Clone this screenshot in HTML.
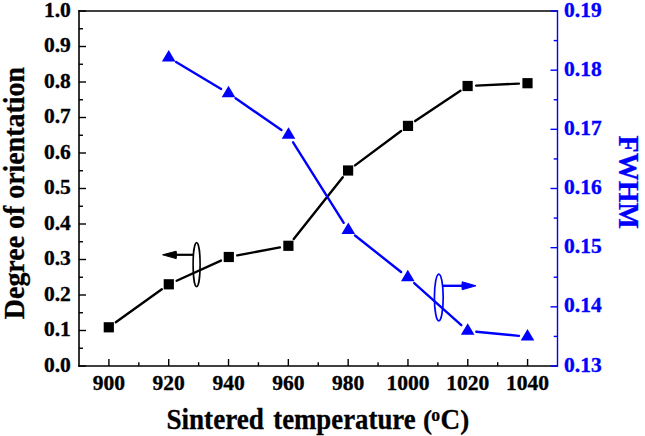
<!DOCTYPE html>
<html><head><meta charset="utf-8"><style>
html,body{margin:0;padding:0;background:#fff;width:645px;height:436px;overflow:hidden}
svg{display:block}
text{font-family:"Liberation Serif",serif;font-weight:bold}
</style></head><body>
<svg width="645" height="436" viewBox="0 0 645 436">
<rect width="645" height="436" fill="#fff"/>
<g stroke="#000" stroke-width="1.6" fill="none">
<line x1="79.0" y1="10.2" x2="79.0" y2="366.8"/>
<line x1="78.2" y1="11.0" x2="557.5" y2="11.0"/>
<line x1="78.2" y1="366.0" x2="557.5" y2="366.0"/>
<line x1="79.0" y1="366.00" x2="86.0" y2="366.00" stroke-width="1.4"/>
<line x1="79.0" y1="330.50" x2="86.0" y2="330.50" stroke-width="1.4"/>
<line x1="79.0" y1="295.00" x2="86.0" y2="295.00" stroke-width="1.4"/>
<line x1="79.0" y1="259.50" x2="86.0" y2="259.50" stroke-width="1.4"/>
<line x1="79.0" y1="224.00" x2="86.0" y2="224.00" stroke-width="1.4"/>
<line x1="79.0" y1="188.50" x2="86.0" y2="188.50" stroke-width="1.4"/>
<line x1="79.0" y1="153.00" x2="86.0" y2="153.00" stroke-width="1.4"/>
<line x1="79.0" y1="117.50" x2="86.0" y2="117.50" stroke-width="1.4"/>
<line x1="79.0" y1="82.00" x2="86.0" y2="82.00" stroke-width="1.4"/>
<line x1="79.0" y1="46.50" x2="86.0" y2="46.50" stroke-width="1.4"/>
<line x1="79.0" y1="11.00" x2="86.0" y2="11.00" stroke-width="1.4"/>
<line x1="79.0" y1="348.25" x2="83.0" y2="348.25" stroke-width="1.4"/>
<line x1="79.0" y1="312.75" x2="83.0" y2="312.75" stroke-width="1.4"/>
<line x1="79.0" y1="277.25" x2="83.0" y2="277.25" stroke-width="1.4"/>
<line x1="79.0" y1="241.75" x2="83.0" y2="241.75" stroke-width="1.4"/>
<line x1="79.0" y1="206.25" x2="83.0" y2="206.25" stroke-width="1.4"/>
<line x1="79.0" y1="170.75" x2="83.0" y2="170.75" stroke-width="1.4"/>
<line x1="79.0" y1="135.25" x2="83.0" y2="135.25" stroke-width="1.4"/>
<line x1="79.0" y1="99.75" x2="83.0" y2="99.75" stroke-width="1.4"/>
<line x1="79.0" y1="64.25" x2="83.0" y2="64.25" stroke-width="1.4"/>
<line x1="79.0" y1="28.75" x2="83.0" y2="28.75" stroke-width="1.4"/>
<line x1="108.91" y1="366.0" x2="108.91" y2="359.0" stroke-width="1.4"/>
<line x1="168.72" y1="366.0" x2="168.72" y2="359.0" stroke-width="1.4"/>
<line x1="228.53" y1="366.0" x2="228.53" y2="359.0" stroke-width="1.4"/>
<line x1="288.34" y1="366.0" x2="288.34" y2="359.0" stroke-width="1.4"/>
<line x1="348.16" y1="366.0" x2="348.16" y2="359.0" stroke-width="1.4"/>
<line x1="407.97" y1="366.0" x2="407.97" y2="359.0" stroke-width="1.4"/>
<line x1="467.78" y1="366.0" x2="467.78" y2="359.0" stroke-width="1.4"/>
<line x1="527.59" y1="366.0" x2="527.59" y2="359.0" stroke-width="1.4"/>
<line x1="138.81" y1="366.0" x2="138.81" y2="362.2" stroke-width="1.4"/>
<line x1="198.62" y1="366.0" x2="198.62" y2="362.2" stroke-width="1.4"/>
<line x1="258.44" y1="366.0" x2="258.44" y2="362.2" stroke-width="1.4"/>
<line x1="318.25" y1="366.0" x2="318.25" y2="362.2" stroke-width="1.4"/>
<line x1="378.06" y1="366.0" x2="378.06" y2="362.2" stroke-width="1.4"/>
<line x1="437.88" y1="366.0" x2="437.88" y2="362.2" stroke-width="1.4"/>
<line x1="497.69" y1="366.0" x2="497.69" y2="362.2" stroke-width="1.4"/>
</g>
<g stroke="#00f" stroke-width="1.4" fill="none">
<line x1="557.5" y1="10.2" x2="557.5" y2="366.8"/>
<line x1="557.5" y1="366.00" x2="550.5" y2="366.00"/>
<line x1="557.5" y1="306.83" x2="550.5" y2="306.83"/>
<line x1="557.5" y1="247.67" x2="550.5" y2="247.67"/>
<line x1="557.5" y1="188.50" x2="550.5" y2="188.50"/>
<line x1="557.5" y1="129.33" x2="550.5" y2="129.33"/>
<line x1="557.5" y1="70.17" x2="550.5" y2="70.17"/>
<line x1="557.5" y1="11.00" x2="550.5" y2="11.00"/>
<line x1="557.5" y1="336.42" x2="553.7" y2="336.42"/>
<line x1="557.5" y1="277.25" x2="553.7" y2="277.25"/>
<line x1="557.5" y1="218.08" x2="553.7" y2="218.08"/>
<line x1="557.5" y1="158.92" x2="553.7" y2="158.92"/>
<line x1="557.5" y1="99.75" x2="553.7" y2="99.75"/>
<line x1="557.5" y1="40.58" x2="553.7" y2="40.58"/>
</g>
<g stroke="#000" stroke-width="2.4" stroke-linecap="round" fill="none">
<line x1="115.79" y1="322.29" x2="161.81" y2="289.31"/>
<line x1="176.63" y1="280.74" x2="220.97" y2="260.56"/>
<line x1="237.25" y1="255.41" x2="279.95" y2="247.39"/>
<line x1="293.74" y1="239.06" x2="342.76" y2="177.24"/>
<line x1="355.00" y1="165.36" x2="401.10" y2="131.04"/>
<line x1="415.15" y1="121.12" x2="460.45" y2="90.78"/>
<line x1="476.19" y1="85.60" x2="518.91" y2="83.60"/>
</g>
<rect x="103.70" y="322.20" width="10.2" height="10.2" fill="#000"/>
<rect x="163.70" y="279.20" width="10.2" height="10.2" fill="#000"/>
<rect x="223.70" y="251.90" width="10.2" height="10.2" fill="#000"/>
<rect x="283.30" y="240.70" width="10.2" height="10.2" fill="#000"/>
<rect x="343.00" y="165.40" width="10.2" height="10.2" fill="#000"/>
<rect x="402.90" y="120.80" width="10.2" height="10.2" fill="#000"/>
<rect x="462.50" y="80.90" width="10.2" height="10.2" fill="#000"/>
<rect x="522.40" y="78.10" width="10.2" height="10.2" fill="#000"/>
<g stroke="#00f" stroke-width="2.4" stroke-linecap="round" fill="none">
<line x1="176.08" y1="62.02" x2="221.12" y2="88.98"/>
<line x1="235.57" y1="98.30" x2="281.43" y2="130.10"/>
<line x1="293.08" y1="142.28" x2="343.72" y2="222.82"/>
<line x1="355.03" y1="235.45" x2="401.07" y2="272.05"/>
<line x1="414.21" y1="283.13" x2="461.29" y2="325.17"/>
<line x1="476.26" y1="331.73" x2="518.94" y2="335.87"/>
</g>
<polygon points="168.70,49.90 175.50,61.45 161.90,61.45" fill="#00f"/>
<polygon points="228.50,85.70 235.30,97.25 221.70,97.25" fill="#00f"/>
<polygon points="288.50,127.30 295.30,138.85 281.70,138.85" fill="#00f"/>
<polygon points="348.30,222.40 355.10,233.95 341.50,233.95" fill="#00f"/>
<polygon points="407.80,269.70 414.60,281.25 401.00,281.25" fill="#00f"/>
<polygon points="467.70,323.20 474.50,334.75 460.90,334.75" fill="#00f"/>
<polygon points="527.50,329.00 534.30,340.55 520.70,340.55" fill="#00f"/>
<g>
<line x1="176" y1="254.8" x2="193" y2="254.8" stroke="#000" stroke-width="2.2"/>
<path d="M162.6,254.8 L176.2,251.2 Q176.8,254.8 176.2,258.6 Z" fill="#000" stroke="#000" stroke-width="1" stroke-linejoin="round"/>
<ellipse cx="196.6" cy="264.6" rx="3.5" ry="22.0" fill="none" stroke="#000" stroke-width="1.6"/>
<line x1="442.5" y1="285.8" x2="462" y2="285.8" stroke="#00f" stroke-width="2.4"/>
<path d="M476,285.8 L462.2,281.8 Q461.6,285.8 462.2,289.7 Z" fill="#00f" stroke="#00f" stroke-width="1" stroke-linejoin="round"/>
<ellipse cx="438.8" cy="297.45" rx="4.4" ry="23.4" fill="none" stroke="#00f" stroke-width="1.7"/>
</g>
<g font-family="Liberation Serif" font-weight="bold" font-size="21.5" fill="#000" stroke="#000" stroke-width="0.35" text-anchor="end">
<text x="70.8" y="371.60">0.0</text>
<text x="70.8" y="336.10">0.1</text>
<text x="70.8" y="300.60">0.2</text>
<text x="70.8" y="265.10">0.3</text>
<text x="70.8" y="229.60">0.4</text>
<text x="70.8" y="194.10">0.5</text>
<text x="70.8" y="158.60">0.6</text>
<text x="70.8" y="123.10">0.7</text>
<text x="70.8" y="87.60">0.8</text>
<text x="70.8" y="52.10">0.9</text>
<text x="70.8" y="16.60">1.0</text>
</g>
<g font-family="Liberation Serif" font-weight="bold" font-size="21.5" fill="#00f" stroke="#00f" stroke-width="0.35">
<text x="564" y="371.60">0.13</text>
<text x="564" y="312.43">0.14</text>
<text x="564" y="253.27">0.15</text>
<text x="564" y="194.10">0.16</text>
<text x="564" y="134.93">0.17</text>
<text x="564" y="75.77">0.18</text>
<text x="564" y="16.60">0.19</text>
</g>
<g font-family="Liberation Serif" font-weight="bold" font-size="21.5" fill="#000" stroke="#000" stroke-width="0.35" text-anchor="middle">
<text x="108.91" y="390.3">900</text>
<text x="168.72" y="390.3">920</text>
<text x="228.53" y="390.3">940</text>
<text x="288.34" y="390.3">960</text>
<text x="348.16" y="390.3">980</text>
<text x="407.97" y="390.3">1000</text>
<text x="467.78" y="390.3">1020</text>
<text x="527.59" y="390.3">1040</text>
</g>
<text font-family="Liberation Serif" font-weight="bold" font-size="29" stroke="#000" stroke-width="0.3" transform="translate(166.4,428.7) scale(0.936,1)">Sintered</text>
<text font-family="Liberation Serif" font-weight="bold" font-size="29" stroke="#000" stroke-width="0.3" transform="translate(273.2,428.7) scale(0.925,1)">temperature</text>
<text font-family="Liberation Serif" font-weight="bold" font-size="29" stroke="#000" stroke-width="0.3" transform="translate(422.9,428.7) scale(0.936,0.92)">(</text>
<text font-family="Liberation Serif" font-weight="bold" font-size="19" stroke="#000" stroke-width="0.25" transform="translate(431.3,420.9) scale(0.936,1)">o</text>
<text font-family="Liberation Serif" font-weight="bold" font-size="29" stroke="#000" stroke-width="0.3" transform="translate(440.6,428.7) scale(0.936,1)">C</text>
<text font-family="Liberation Serif" font-weight="bold" font-size="29" stroke="#000" stroke-width="0.3" transform="translate(460.3,428.7) scale(0.936,0.92)">)</text>
<text font-family="Liberation Serif" font-weight="bold" font-size="30" stroke="#000" stroke-width="0.3" transform="translate(23.7,193.05) rotate(-90) scale(0.931,1)" text-anchor="middle">Degree of orientation</text>
<text font-family="Liberation Serif" font-weight="bold" font-size="30" fill="#00f" stroke="#00f" stroke-width="0.3" transform="translate(619,182.25) rotate(90) scale(0.935,1)" text-anchor="middle">FWHM</text>
</svg>
</body></html>
